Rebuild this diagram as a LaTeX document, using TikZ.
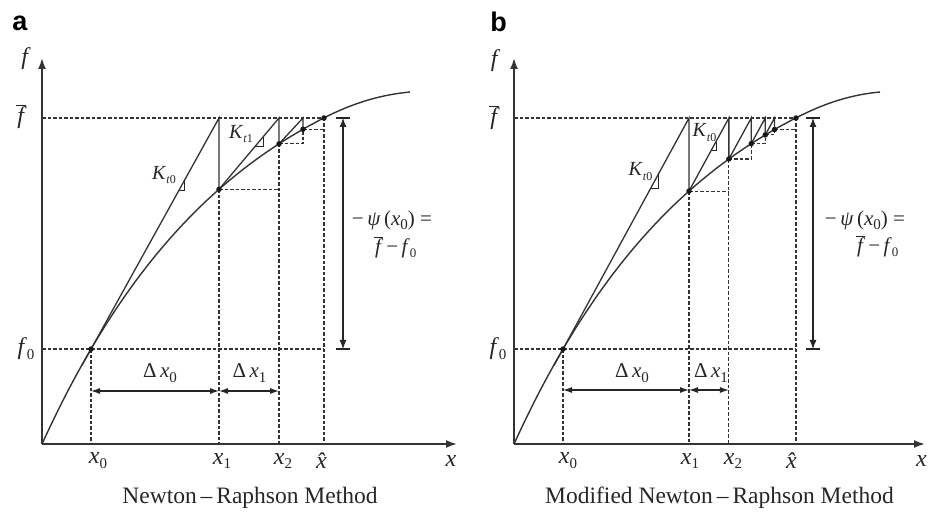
\documentclass[tikz,border=0pt]{standalone}
\usepackage{fontspec}
\setmainfont{Liberation Serif}
\newfontfamily\labelsans{Liberation Sans}
\usetikzlibrary{arrows.meta,calc}
\newcommand{\sbs}[2][15]{\raisebox{-0.45ex}{\fontsize{#1}{#1}\selectfont #2}}
\newcommand{\fbar}{$\overline{\mbox{\itshape\kern1.5pt f\kern2pt}}$}
\begin{document}
\begin{tikzpicture}[x=1pt,y=1pt,
  declare function={F(\xx)=425.6*(1-exp(-\xx/194));},
  axisarrow/.style={line width=1.8pt, draw=black!80, -{Latex[length=11pt,width=8pt]}},
  crv/.style={line width=1.4pt, draw=black!80},
  ln/.style={line width=1.3pt, draw=black!80},
  dsh/.style={line width=1.05pt, draw=black!80, dash pattern=on 3.5pt off 2pt},
  dimarrow/.style={line width=1.1pt, draw=black!85, {Latex[length=9pt,width=6pt]}-{Latex[length=9pt,width=6pt]}},
  psiarr/.style={line width=1.1pt, draw=black!85, {Latex[length=9pt,width=7pt]}-{Latex[length=9pt,width=7pt]}},
  tickmark/.style={line width=1.1pt, draw=black!85},
  tri/.style={line width=0.9pt, draw=black!85},
  dotmark/.style={circle, fill=black!90, inner sep=0pt, minimum size=5.5pt},
  lab/.style={inner sep=0pt, text=black!85, font=\fontsize{24}{24}\selectfont},
  slab/.style={inner sep=0pt, text=black!85, font=\fontsize{21}{21}\selectfont},
  klab/.style={inner sep=0pt, text=black!85, font=\fontsize{20}{20}\selectfont},
  captext/.style={inner sep=0pt, text=black!85, font=\fontsize{23.5}{24}\selectfont},
  panellabel/.style={inner sep=0pt, text=black, font=\labelsans\bfseries\fontsize{27}{27}\selectfont}
]
\useasboundingbox (0,0) rectangle (928,514);

\node[panellabel] (la) at (20,491) {a};
\node[panellabel] (lb) at (498.5,492) {b};

% ================= Panel a =================
\begin{scope}[shift={(42,70)}]
  \coordinate (aO) at (0,0);
  \coordinate (aYtop) at (0,386);
  \coordinate (aXend) at (415,0);
  \coordinate (aP0) at (49,{F(49)});
  \coordinate (aP1) at (177,{F(177)});
  \coordinate (aP2) at (237,{F(237)});
  \coordinate (aP3) at (261,{F(261)});
  \coordinate (aH) at (282,326);
  \coordinate (aT1) at (177,326);
  \coordinate (aT2) at (237,326);
  \coordinate (aT3) at (261,326);
  \coordinate (aFb) at (0,326);
  \coordinate (aF0) at (0,95);
  \coordinate (aF0r) at (282,95);
  \coordinate (aB0) at (49,0);
  \coordinate (aB1) at (177,0);
  \coordinate (aB2) at (237,0);
  \coordinate (aBh) at (282,0);
  \coordinate (aS1) at (237,{F(177)});
  \coordinate (aS2) at (261,{F(237)});
  \coordinate (aS3) at (282,{F(261)});
  \coordinate (aD0) at (49,53);
  \coordinate (aD1) at (177,53);
  \coordinate (aD2) at (237,53);
  \coordinate (aPsiT) at (301,326);
  \coordinate (aPsiB) at (301,95);

  % dashed guides
  \draw[dsh] (aFb) -- (aH);
  \draw[dsh] (aF0) -- (aF0r);
  \draw[dsh] (aP0) -- (aB0);
  \draw[dsh] (aP1) -- (aB1);
  \draw[dsh] (aP1) -- (aS1);
  \draw[dsh] (aP2) -- (aB2);
  \draw[dsh] (aP2) -- (aS2) -- (aP3);
  \draw[dsh] (aP3) -- (aS3);
  \draw[dsh] (aH) -- (aBh);

  % curve
  \draw[crv] plot[domain=0:282,samples=80] (\x,{F(\x)}) .. controls (311,341) and (339,349.3) .. (368,352);
  % Newton lines
  \draw[ln] ($(aP0)!-0.07!(aT1)$) -- (aT1) -- (aP1) -- (aT2) -- (aP2) -- (aT3) -- (aP3);
  % slope triangles
  \draw[tri] (137.1,254) -- (142.6,254) -- (142.6,263.9);
  \draw[tri] (213.4,298) -- (221,298) -- (221,307);

  % axes
  \draw[axisarrow] (aO) -- (aYtop);
  \draw[axisarrow] (aO) -- (aXend);

  % dimensions
  \draw[dimarrow] (aD0) -- (aD1);
  \draw[dimarrow] (aD1) -- (aD2);
  \draw[psiarr] (aPsiT) -- (aPsiB);
  \draw[tickmark] (294,326) -- (308,326);
  \draw[tickmark] (294,95) -- (308,95);

  % dots
  \foreach \p in {aP0,aP1,aP2,aP3,aH} \node[dotmark] at (\p) {};

  % labels
  \node[lab] (aLf) at (-16,385) {\textit{f}};
  \node[lab] (aLfb) at (-21,327) {\fbar};
  \node[lab] (aLf0) at (-16,95) {\textit{f}\sbs{0}};
  \node[lab] (aLx0) at (56,-17) {\textit{x}\sbs{0}};
  \node[lab] (aLx1) at (180,-17) {\textit{x}\sbs{1}};
  \node[lab] (aLx2) at (241,-17) {\textit{x}\sbs{2}};
  \node[lab] (aLxh) at (284,-17) {\textit{\^{x}}};
  \node[lab] (aLx) at (409,-17) {\textit{x}};
  \node[slab] (aLdx0) at (118,71) {Δ\,\textit{x}\sbs{0}};
  \node[slab] (aLdx1) at (207.5,71) {Δ\,\textit{x}\sbs{1}};
  \node[klab] (aLk0) at (122,269) {\textit{K}\sbs[12]{\textit{t}0}};
  \node[klab] (aLk1) at (199,310) {\textit{K}\sbs[12]{\textit{t}1}};
  \node[slab] (aLpsi1) at (350,224) {−\,\textit{ψ}\,(\textit{x}\sbs{0}) =};
  \node[slab] (aLpsi2) at (353,197) {\fbar\,−\,\textit{f}\sbs[13]{0}};
  \node[captext] (aCap) at (208,-54) {Newton\,–\,Raphson Method};
\end{scope}

% ================= Panel b =================
\begin{scope}[shift={(514,70)}]
  \coordinate (bO) at (0,0);
  \coordinate (bYtop) at (0,386);
  \coordinate (bXend) at (411,0);
  \coordinate (bP0) at (49,{F(49)});
  \coordinate (bP1) at (175,{F(175)});
  \coordinate (bP2) at (214.87,{F(214.87)});
  \coordinate (bP3) at (237.24,{F(237.24)});
  \coordinate (bP4) at (251.25,{F(251.25)});
  \coordinate (bP5) at (260.5,{F(260.5)});
  \coordinate (bH) at (282,326);
  \coordinate (bT1) at (175,326);
  \coordinate (bT2) at (214.87,326);
  \coordinate (bT3) at (237.24,326);
  \coordinate (bT4) at (251.25,326);
  \coordinate (bT5) at (260.5,326);
  \coordinate (bFb) at (0,326);
  \coordinate (bF0) at (0,95);
  \coordinate (bF0r) at (282,95);
  \coordinate (bB0) at (49,0);
  \coordinate (bB1) at (175,0);
  \coordinate (bB2) at (214.87,0);
  \coordinate (bBh) at (282,0);
  \coordinate (bS1) at (214.87,{F(175)});
  \coordinate (bS2) at (237.24,{F(214.87)});
  \coordinate (bS3) at (251.25,{F(237.24)});
  \coordinate (bS4) at (260.5,{F(251.25)});
  \coordinate (bS5) at (282,{F(260.5)});
  \coordinate (bD0) at (49,54);
  \coordinate (bD1) at (175,54);
  \coordinate (bD2) at (214.87,54);
  \coordinate (bPsiT) at (299,326);
  \coordinate (bPsiB) at (299,95);

  % dashed guides
  \draw[dsh] (bFb) -- (bH);
  \draw[dsh] (bF0) -- (bF0r);
  \draw[dsh] (bP0) -- (bB0);
  \draw[dsh] (bP1) -- (bB1);
  \draw[dsh] (bP1) -- (bS1);
  \draw[dsh] (bP2) -- (bB2);
  \draw[dsh] (bP2) -- (bS2) -- (bP3);
  \draw[dsh] (bP3) -- (bS3) -- (bP4);
  \draw[dsh] (bP4) -- (bS4) -- (bP5);
  \draw[dsh] (bP5) -- (bS5);
  \draw[dsh] (bH) -- (bBh);

  % curve
  \draw[crv] plot[domain=0:282,samples=80] (\x,{F(\x)}) .. controls (311,341) and (337,349.3) .. (366,352);
  % modified Newton lines (parallel)
  \draw[ln] ($(bP0)!-0.07!(bT1)$) -- (bT1) -- (bP1) -- (bT2) -- (bP2) -- (bT3) -- (bP3) -- (bT4) -- (bP4) -- (bT5) -- (bP5);
  % slope triangles
  \draw[tri] (136.8,256) -- (144.8,256) -- (144.8,270.7);
  \draw[tri] (197.4,294) -- (202,294) -- (202,302.4);

  % axes
  \draw[axisarrow] (bO) -- (bYtop);
  \draw[axisarrow] (bO) -- (bXend);

  % dimensions
  \draw[dimarrow] (bD0) -- (bD1);
  \draw[dimarrow] (bD1) -- (bD2);
  \draw[psiarr] (bPsiT) -- (bPsiB);
  \draw[tickmark] (292,326) -- (306,326);
  \draw[tickmark] (292,95) -- (306,95);

  % dots
  \foreach \p in {bP0,bP1,bP2,bP3,bP4,bP5,bH} \node[dotmark] at (\p) {};

  % labels
  \node[lab] (bLf) at (-18.5,383) {\textit{f}};
  \node[lab] (bLfb) at (-20,326) {\fbar};
  \node[lab] (bLf0) at (-16,95) {\textit{f}\sbs{0}};
  \node[lab] (bLx0) at (54,-17) {\textit{x}\sbs{0}};
  \node[lab] (bLx1) at (176,-17) {\textit{x}\sbs{1}};
  \node[lab] (bLx2) at (219,-17) {\textit{x}\sbs{2}};
  \node[lab] (bLxh) at (282,-17) {\textit{\^{x}}};
  \node[lab] (bLx) at (407.5,-17) {\textit{x}};
  \node[slab] (bLdx0) at (118,71) {Δ\,\textit{x}\sbs{0}};
  \node[slab] (bLdx1) at (197,71) {Δ\,\textit{x}\sbs{1}};
  \node[klab] (bLk0) at (126.5,272.5) {\textit{K}\sbs[12]{\textit{t}0}};
  \node[klab] (bLk1) at (190.5,311.5) {\textit{K}\sbs[12]{\textit{t}0}};
  \node[slab] (bLpsi1) at (351,224) {−\,\textit{ψ}\,(\textit{x}\sbs{0}) =};
  \node[slab] (bLpsi2) at (363,198) {\fbar\,−\,\textit{f}\sbs[13]{0}};
  \node[captext] (bCap) at (205.5,-54) {Modified Newton\,–\,Raphson Method};
\end{scope}
\end{tikzpicture}
\end{document}
